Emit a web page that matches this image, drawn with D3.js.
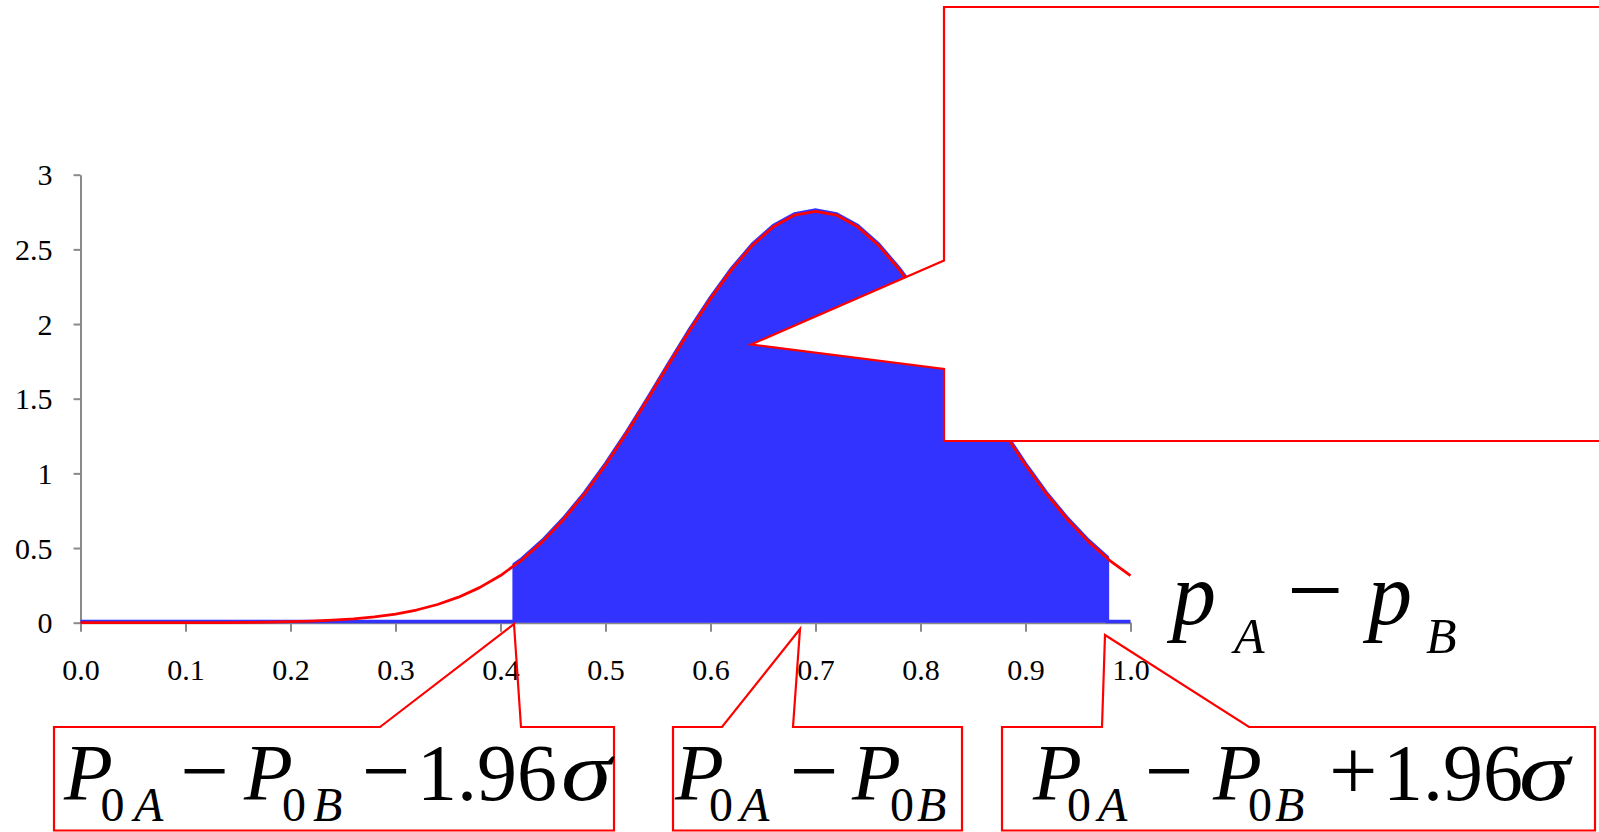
<!DOCTYPE html>
<html>
<head>
<meta charset="utf-8">
<script src="https://cdn.jsdelivr.net/npm/d3@7"></script>
<style>
  html, body { margin: 0; padding: 0; background: #fff; }
  svg { display: block; }
  text { font-family: "Liberation Serif", "Times New Roman", serif; fill: #000; }
</style>
</head>
<body>
<svg id="chart" width="1599" height="832"></svg>
<script>
// Difference of proportions pA - pB: sampling density and its 95% interval
const xTicks = [0.0, 0.1, 0.2, 0.3, 0.4, 0.5, 0.6, 0.7, 0.8, 0.9, 1.0];
const yTicks = [0, 0.5, 1, 1.5, 2, 2.5, 3];

const diffGrid = [
  0.00, 0.02, 0.04, 0.06, 0.08, 0.10, 0.12, 0.14, 0.16, 0.18,
  0.20, 0.22, 0.24, 0.26, 0.28, 0.30, 0.32, 0.34, 0.36, 0.38,
  0.40, 0.42, 0.44, 0.46, 0.48, 0.50, 0.52, 0.54, 0.56, 0.58,
  0.60, 0.62, 0.64, 0.66, 0.68, 0.70, 0.72, 0.74, 0.76, 0.78,
  0.80, 0.82, 0.84, 0.86, 0.88, 0.90, 0.92, 0.94, 0.96, 0.98, 1.00
];
const density = [
  0.000, 0.000, 0.000, 0.000, 0.000, 0.001, 0.001, 0.001, 0.002, 0.004,
  0.007, 0.011, 0.017, 0.026, 0.039, 0.058, 0.085, 0.122, 0.171, 0.235,
  0.316, 0.418, 0.543, 0.691, 0.862, 1.056, 1.268, 1.494, 1.727, 1.955,
  2.170, 2.363, 2.528, 2.652, 2.730, 2.755, 2.730, 2.652, 2.528, 2.363,
  2.170, 1.955, 1.727, 1.494, 1.268, 1.056, 0.862, 0.691, 0.543, 0.418, 0.316
];
// interval bounds P0A - P0B -/+ 1.96 sigma
const ciLow = 0.413;
const ciHigh = 0.978;

const svg = d3.select("#chart");
const x = d3.scaleLinear().domain([0, 1]).range([80.5, 1130.5]);
const y = d3.scaleLinear().domain([0, 3]).range([622.7, 174.7]);

const axisColor = "#8a8a8a";
const serif = "Liberation Serif";

// axes
const gx = svg.append("g").attr("transform", `translate(0,${y(0)})`)
  .call(d3.axisBottom(x).tickValues(xTicks).tickFormat(d3.format(".1f"))
    .tickSize(9).tickSizeOuter(0));
gx.select(".domain").attr("stroke", axisColor).attr("stroke-width", 2);
gx.selectAll(".tick line").attr("stroke", axisColor).attr("stroke-width", 2);
gx.selectAll(".tick text").attr("y", 57).attr("dy", 0)
  .attr("font-size", 30).attr("font-family", serif).attr("fill", "#000");

const gy = svg.append("g").attr("transform", `translate(${x(0)},0)`)
  .call(d3.axisLeft(y).tickValues(yTicks).tickFormat(d => String(d))
    .tickSize(7).tickPadding(21).tickSizeOuter(0));
gy.select(".domain").attr("stroke", axisColor).attr("stroke-width", 2);
gy.selectAll(".tick line").attr("stroke", axisColor).attr("stroke-width", 2);
gy.selectAll(".tick text").attr("dy", "0.34em")
  .attr("font-size", 30).attr("font-family", serif).attr("fill", "#000");

// density values as points
const curve = diffGrid.map((d, i) => ({ x: d, v: density[i] }));
function densityAt(p) {
  const i = d3.bisectRight(diffGrid, p) - 1;
  const j = Math.min(i + 1, diffGrid.length - 1);
  if (i === j) return density[i];
  const t = (p - diffGrid[i]) / (diffGrid[j] - diffGrid[i]);
  return density[i] + t * (density[j] - density[i]);
}

// blue series: density inside the interval, zero outside
const shaded = [];
let openedLow = false, closedHigh = false;
curve.forEach(pt => {
  if (!openedLow && pt.x > ciLow) {
    shaded.push({ x: ciLow, v: 0 }, { x: ciLow, v: densityAt(ciLow) });
    openedLow = true;
  }
  if (!closedHigh && pt.x > ciHigh) {
    shaded.push({ x: ciHigh, v: densityAt(ciHigh) }, { x: ciHigh, v: 0 });
    closedHigh = true;
  }
  const inside = pt.x >= ciLow && pt.x <= ciHigh;
  shaded.push({ x: pt.x, v: inside ? pt.v : 0 });
});

const blue = "#3333ff";
svg.append("path").datum(shaded)
  .attr("fill", blue)
  .attr("d", d3.area().x(d => x(d.x)).y0(y(0)).y1(d => y(d.v)));
svg.append("path").datum(shaded)
  .attr("fill", "none").attr("stroke", blue).attr("stroke-width", 3.5)
  .attr("transform", "translate(0,-1.2)")
  .attr("d", d3.line().x(d => x(d.x)).y(d => y(d.v)));

svg.append("path").datum(curve)
  .attr("fill", "none").attr("stroke", "#ff0000").attr("stroke-width", 2.8)
  .attr("stroke-linejoin", "round")
  .attr("d", d3.line().x(d => x(d.x)).y(d => y(d.v)));

// callout shapes
const red = "#ff0000";
const callouts = [
  { fill: "#fff", pts: [[944,7],[1603,7],[1603,441],[944,441],[944,369],[751,344.5],[944,260.5]] },
  { fill: "none", pts: [[54,727],[380,727],[514,624],[521,727],[614,727],[614,830.5],[54,830.5]] },
  { fill: "none", pts: [[673,727],[722,727],[800,629],[793,727],[962,727],[962,830.5],[673,830.5]] },
  { fill: "none", pts: [[1002,727],[1102,727],[1105,635],[1249,727],[1595,727],[1595,830.5],[1002,830.5]] }
];
svg.append("g").selectAll("path").data(callouts).join("path")
  .attr("fill", d => d.fill).attr("stroke", red).attr("stroke-width", 2.2)
  .attr("stroke-linejoin", "miter")
  .attr("d", d => d3.line()(d.pts) + "Z");

// math labels
function mathLabel(pieces) {
  const g = svg.append("g");
  pieces.forEach(p => {
    g.append("text")
      .attr("transform", `translate(${p.x},${p.y}) scale(${p.sx || 1},1)`)
      .attr("font-family", serif)
      .attr("font-size", p.size)
      .attr("font-style", p.it ? "italic" : "normal")
      .text(p.t);
  });
}
const B = 800, S = 821, M = 80, s = 48;
mathLabel([
  { t: "P", x: 64, y: B, size: M, it: true },
  { t: "0", x: 100.5, y: S, size: s },
  { t: "A", x: 134, y: S, size: s, it: true },
  { t: "\u2212", x: 180.5, y: B, size: 86 },
  { t: "P", x: 244, y: B, size: M, it: true },
  { t: "0", x: 282, y: S, size: s },
  { t: "B", x: 313, y: S, size: s, it: true },
  { t: "\u2212", x: 362, y: B, size: 86 },
  { t: "1.96", x: 417, y: B, size: M },
  { t: "\u03c3", x: 561, y: B, size: 84, it: true, sx: 1.22 }
]);
mathLabel([
  { t: "P", x: 675, y: B, size: M, it: true },
  { t: "0", x: 709, y: S, size: s },
  { t: "A", x: 740, y: S, size: s, it: true },
  { t: "\u2212", x: 790, y: B, size: 86 },
  { t: "P", x: 852, y: B, size: M, it: true },
  { t: "0", x: 890, y: S, size: s },
  { t: "B", x: 917, y: S, size: s, it: true }
]);
mathLabel([
  { t: "P", x: 1033, y: B, size: M, it: true },
  { t: "0", x: 1067, y: S, size: s },
  { t: "A", x: 1098, y: S, size: s, it: true },
  { t: "\u2212", x: 1145, y: B, size: 86 },
  { t: "P", x: 1213, y: B, size: M, it: true },
  { t: "0", x: 1248, y: S, size: s },
  { t: "B", x: 1275, y: S, size: s, it: true },
  { t: "+", x: 1329, y: B, size: 86 },
  { t: "1.96", x: 1383, y: B, size: M },
  { t: "\u03c3", x: 1519, y: B, size: 84, it: true, sx: 1.22 }
]);

// axis title pA - pB
mathLabel([
  { t: "p", x: 1172, y: 624, size: 88, it: true },
  { t: "A", x: 1234, y: 653, size: 50, it: true },
  { t: "\u2212", x: 1287, y: 624, size: 100 },
  { t: "p", x: 1368, y: 624, size: 88, it: true },
  { t: "B", x: 1426, y: 653, size: 50, it: true }
]);
</script>
</body>
</html>
